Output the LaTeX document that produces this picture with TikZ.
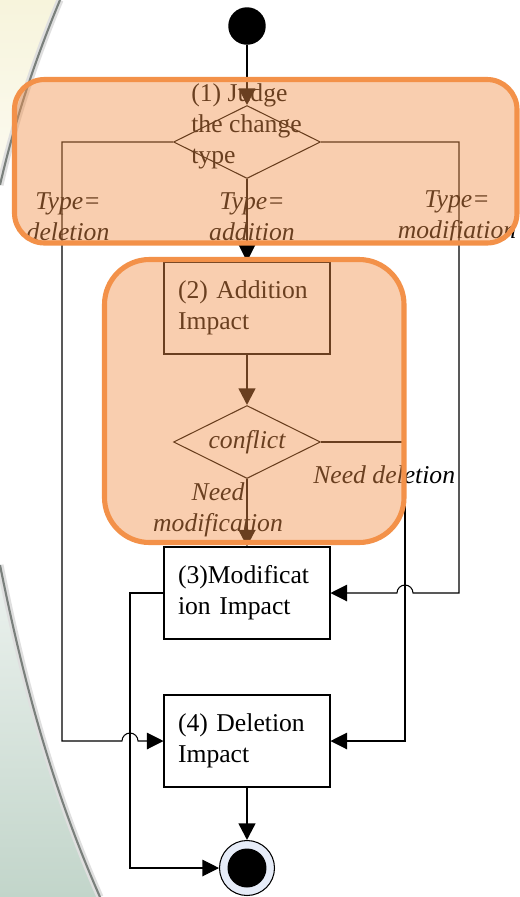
\documentclass[tikz,border=0pt]{standalone}
\usepackage{fontspec}
\setmainfont{Liberation Serif}
\usetikzlibrary{arrows.meta,shapes.geometric}
\definecolor{hlorange}{HTML}{F39149}
\definecolor{endfill}{HTML}{E6ECF8}
\definecolor{sagebg}{HTML}{C2D5CA}
\definecolor{creambg}{HTML}{F7F4DC}
\definecolor{edgegrey}{HTML}{7A807C}

\begin{document}
\begin{tikzpicture}[x=0.02cm,y=-0.02cm,
  txt/.style={font=\fontsize{14.6}{17.6}\selectfont},
  stepbox/.style={draw=black, line width=0.6pt, rectangle, minimum width=3.32cm,
    minimum height=1.84cm, text width=2.76cm, inner xsep=0.28cm, align=left, txt},
  decision/.style={draw=black, line width=0.6pt, diamond, minimum width=2.94cm,
    minimum height=1.46cm, inner sep=0pt},
  flow/.style={line width=0.6pt, -{Triangle[length=0.33cm,width=0.33cm]}},
  thickflow/.style={line width=1.4pt, -{Triangle[length=0.33cm,width=0.33cm]}},
  guard/.style={font=\fontsize{14.6}{17.6}\selectfont\itshape, align=center, inner sep=0pt},
  highlight/.style={draw=hlorange, line width=2.9pt, fill=hlorange, fill opacity=0.44,
    rounded corners=#1},
]
\useasboundingbox (0,0) rectangle (520,897);

% slide background
\fill[white] (0,0) rectangle (520,897);
\shade[top color=creambg, bottom color=creambg!40!white]
  (0,0) -- (60,0) .. controls (35,60) and (15,120) .. (0,185) -- cycle;
\shade[top color=sagebg!30!white, middle color=sagebg!90!white, bottom color=sagebg]
  (0,565) .. controls (25,690) and (55,795) .. (100,897) -- (0,897) -- cycle;
\draw[gray!25, line width=4pt] (60,0) .. controls (35,60) and (15,120) .. (0,185);
\draw[edgegrey, line width=1.2pt] (60,0) .. controls (35,60) and (15,120) .. (0,185);
\draw[gray!25, line width=4pt] (0,565) .. controls (25,690) and (55,795) .. (100,897);
\draw[edgegrey, line width=1.2pt] (0,565) .. controls (25,690) and (55,795) .. (100,897);

% rails for the routed connectors
\coordinate (leftrail) at (62,0);
\coordinate (modrail) at (130,0);
\coordinate (delrail) at (405,0);
\coordinate (rightrail) at (459,0);
\coordinate (hopA) at (122,741);
\coordinate (hopB) at (413,593);

% nodes
\node[circle, fill=black, minimum size=0.75cm, inner sep=0pt] (start) at (247,26) {};
\node[decision] (judge) at (247,142) {};
\node[txt, anchor=west, align=left, inner sep=0pt] (judgetxt) at (191,126)
  {(1) Judge\\the change\\type};
\node[stepbox] (addbox) at (247,308) {(2) Addition\\Impact};
\node[decision] (conflict) at (247,442) {};
\node[guard] (lblconf) at (247,442) {conflict};
\node[stepbox] (modbox) at (247,593) {(3)Modificat\\ion Impact};
\node[stepbox] (delbox) at (247,741) {(4) Deletion\\Impact};
\node[circle, draw=black, line width=0.6pt, fill=endfill, minimum size=1.1cm, inner sep=0pt,
  path picture={\fill[black] (path picture bounding box.center) circle (0.39cm);}]
  (finish) at (247,868) {};

% connectors
\draw[flow] (start) -- (judge.north);
\draw[flow] (judge.south) -- (addbox.north);
\draw[flow] (judge.west) -| (leftrail |- hopA) -- (hopA) arc (180:360:8) -- (delbox.west);
\draw[flow] (judge.east) -| (rightrail |- hopB) -- (hopB) arc (0:-180:8) -- (modbox.east);
\draw[thickflow] (addbox.south) -- (conflict.north);
\draw[flow] (conflict.east) -| (delrail |- delbox.east) -- (delbox.east);
\draw[thickflow] (conflict.south) -- (modbox.north);
\draw[flow] (modbox.west) -| (modrail |- finish.west) -- (finish.west);
\draw[thickflow] (delbox.south) -- (finish.north);

% guard labels
\node[guard] (lbldel) at (68,217) {Type=\\deletion};
\node[guard] (lbladd) at (252,217) {Type=\\addition};
\node[guard] (lblmod) at (457,217) {Type=\\modifiation};
\node[guard, anchor=west] (lblneeddel) at (313,475) {Need deletion};
\node[guard] (lblneedmod) at (218,510) {Need\\modification};

% highlighted regions
\draw[highlight=0.6cm] (14.5,79.5) rectangle (517,243);
\draw[highlight=0.9cm] (104.5,259.5) rectangle (404,542.5);
\end{tikzpicture}
\end{document}
